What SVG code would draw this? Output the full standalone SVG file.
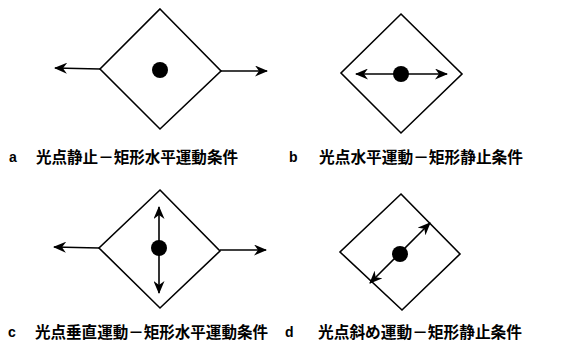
<svg xmlns="http://www.w3.org/2000/svg" width="582" height="355" viewBox="0 0 582 355">
<style>
.dia{fill:#fff;stroke:#000;stroke-width:1.6;stroke-linejoin:miter}
.dot{fill:#000}
.arr{stroke:#000;stroke-width:1.6;fill:none;marker-end:url(#ah)}
.arr2{stroke:#000;stroke-width:1.6;fill:none;marker-end:url(#ah);marker-start:url(#ah)}
.lt{font-family:"Liberation Sans",Arial,sans-serif;font-weight:bold;font-size:14px;fill:#000}
.cap{font-family:"Noto Sans CJK JP","Noto Sans CJK SC",sans-serif;font-weight:bold;font-size:15.5px;fill:#000}
</style>
<defs>
<marker id="ah" viewBox="0 0 13 11" refX="12" refY="5.5" markerWidth="13" markerHeight="11" markerUnits="userSpaceOnUse" orient="auto-start-reverse">
<path d="M0,0 L13,5.5 L0,11 L4,5.5 Z" fill="#000"/>
</marker>
</defs>
<g id="node-a">
<polygon class="dia" points="160,9 221,71 160,129 100,69"/>
<circle class="dot" cx="160" cy="70" r="8"/>
</g>
<g id="node-b">
<polygon class="dia" points="401,14 462,74 401,133 341,73"/>
<circle class="dot" cx="401" cy="74" r="8"/>
</g>
<g id="node-c">
<polygon class="dia" points="160,190 220,251 160,308 99,248"/>
<circle class="dot" cx="159" cy="248" r="8"/>
</g>
<g id="node-d">
<polygon class="dia" points="401,194 460,254 402,310 340,252"/>
<circle class="dot" cx="400" cy="254" r="8"/>
</g>
<g id="connectors">
<line class="arr" x1="100" y1="69" x2="55" y2="68"/>
<line class="arr" x1="221" y1="71" x2="267" y2="71"/>
<line class="arr2" x1="356" y1="74" x2="447" y2="74"/>
<line class="arr" x1="99" y1="248" x2="54" y2="247"/>
<line class="arr" x1="220" y1="250" x2="266" y2="250"/>
<line class="arr2" x1="159" y1="207" x2="159" y2="293"/>
<line class="arr2" x1="430" y1="223" x2="370" y2="283"/>
</g>
<g id="labels">
<text class="lt" x="9" y="162">a</text>
<text class="cap" x="36" y="163" textLength="202" lengthAdjust="spacingAndGlyphs">光点静止－矩形水平運動条件</text>
<text class="lt" x="289" y="162">b</text>
<text class="cap" x="319" y="163" textLength="204" lengthAdjust="spacingAndGlyphs">光点水平運動－矩形静止条件</text>
<text class="lt" x="8" y="337">c</text>
<text class="cap" x="35" y="338" textLength="233" lengthAdjust="spacingAndGlyphs">光点垂直運動－矩形水平運動条件</text>
<text class="lt" x="285" y="337">d</text>
<text class="cap" x="318" y="338" textLength="204" lengthAdjust="spacingAndGlyphs">光点斜め運動－矩形静止条件</text>
</g>
</svg>
